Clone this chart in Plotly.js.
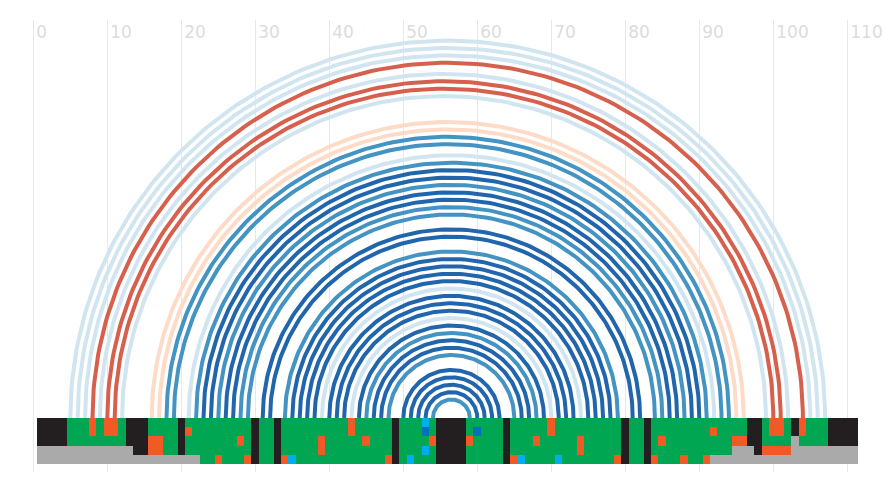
<!DOCTYPE html>
<html><head><meta charset="utf-8">
<script src="https://cdn.plot.ly/plotly-3.0.1.min.js"></script>
<style>html,body{margin:0;padding:0;background:#fff}#chart{width:888px;height:490px}</style>
</head><body><div id="chart"></div>
<script>
// Base pairs (left position, right position, colour class)
const pairLeft  = [5,6,7,8,9,10,11,12,16,17,18,19,21,22,23,24,25,26,27,28,29,31,32,34,35,36,37,38,39,40,41,42,43,44,45,46,47,48,50,51,52,53,54];
const pairRight = [107,106,105,104,102,101,100,99,96,95,94,93,92,91,90,89,88,87,86,85,84,82,81,79,78,77,76,75,74,73,72,71,70,69,68,67,66,65,63,62,61,60,59];
const pairClass = ['lb','lb','lb','red','lb','red','red','lb','peach','peach','mid','mid','lb','mid','dark','dark','mid','dark','dark','mid','mid','dark','dark','mid','dark','dark','dark','dark','lb','dark','dark','dark','lb','dark','mid','dark','dark','mid','dark','dark','dark','dark','mid'];

// Tile rows (top to bottom), one letter per position 1..111
const tileRow0 = "KKKK GGGOGOOG KKK GGGG K GGGGGGGGG K GG K GGGGGGGGGOGGGGG K GGGCG KKKK GGGGG K GGGGGOGGGGGGGGG K GG K GGGGGGGGGGGGG KK G OO G K O GGG KKKK";
const tileRow1 = "KKKK GGGOGOOG KKK GGGG K OGGGGGGGG K GG K GGGGGGGGGOGGGGG K GGGBG KKKK GBGGG K GGGGGOGGGGGGGGG K GG K GGGGGGGGOGGGG KK G OO G K O GGG KKKK";
const tileRow2 = "KKKK GGGGGGGG KKK OO GG K GGGGGGGOG K GG K GGGGGOGGGGGOGGG K GGGGO KKKK OGGGG K GGGOGGGGGOGGGGG K GG K GOGGGGGGGGGOO KK GGGG A GGGG KKKK";
const tileRow3 = "AAAAAAAAAAAAA KK OO GG K GGGGGGGGG K GG K GGGGGOGGGGGGGGG K GGGCG KKKK GGGGG K GGGGGGGGGOGGGGG K GG K GGGGGGGGGGG AAA K OOOO AAAAAAAAA";
const tileRow4 = "AAAAAAAAAAAAAAAAAAAAAA GG O GGG O K GG K O C GGGGGGGGGGGG O K G C GGG KKKK GGGGG K O C GGGG C GGGGGGG O K GG K O GGG O GG O AAAAAAAAAAAAAAAAAAAA";

const xTicks = [0,10,20,30,40,50,60,70,80,90,100,110];

const classColor = {lb:'#d1e5f0', mid:'#4393c3', dark:'#2166ac', red:'#d6604d', peach:'#fddbc7'};
const tileCodes = {K:0, G:1, O:2, A:3, C:4, B:5};
const tileColors = ['#231f20','#00a651','#f15a24','#aaaaaa','#00aeef','#0072bc'];

// geometry of the canvas
const W = 888, H = 490, mT = 20, mB = 18;
const xRange = [-4.5, 115.5];
const pxPerUnit = W / (xRange[1] - xRange[0]);
const baselinePx = 418;             // pixel row of y=0
const tileHeightPx = 46;            // total height of tile strip
const plotH = H - mT - mB;
const yTop = (baselinePx - mT) / pxPerUnit;
const yBot = -(mT + plotH - baselinePx) / pxPerUnit;

const traces = [];
// heatmap tiles
const rows = [tileRow0, tileRow1, tileRow2, tileRow3, tileRow4].map(s => s.replace(/\s+/g,''));
const nCols = rows[0].length;
const xs = []; for (let i = 1; i <= nCols; i++) xs.push(i);
const rowH = tileHeightPx / rows.length / pxPerUnit;
const ys = rows.map((_, k) => -(k + 0.5) * rowH);
const z = rows.map(r => r.split('').map(c => tileCodes[c]));
const n = tileColors.length;
const cs = [];
tileColors.forEach((c, i) => { cs.push([i / n, c]); cs.push([(i + 1) / n, c]); });
traces.push({type:'heatmap', x:xs, y:ys, z:z, colorscale:cs, zmin:-0.5, zmax:n-0.5,
  showscale:false, hoverinfo:'skip', xgap:0, ygap:0});

// arcs grouped by colour
const order = ['lb','peach','red','mid','dark'];
order.forEach(cls => {
  const ax = [], ay = [];
  pairLeft.forEach((l, k) => {
    if (pairClass[k] !== cls) return;
    const r = pairRight[k];
    const c = (l + r) / 2, rad = (r - l) / 2;
    const N = 160;
    for (let t = 0; t <= N; t++) {
      const th = Math.PI * t / N;
      ax.push(c - rad * Math.cos(th));
      ay.push(rad * Math.sin(th));
    }
    ax.push(null); ay.push(null);
  });
  traces.push({type:'scatter', mode:'lines', x:ax, y:ay, line:{color:classColor[cls], width:4},
    hoverinfo:'skip', connectgaps:false});
});

const layout = {
  width:W, height:H, margin:{l:0, r:0, t:mT, b:mB, pad:0},
  paper_bgcolor:'#ffffff', plot_bgcolor:'#ffffff', showlegend:false,
  xaxis:{range:xRange, side:'top', tickmode:'array', tickvals:xTicks, ticktext:xTicks.map(String),
    ticklabelposition:'inside right', ticklabelshift:3, ticks:'', showgrid:true, gridcolor:'#e8e8e8', gridwidth:1,
    zeroline:false, showline:false, tickfont:{family:'DejaVu Sans', size:17, color:'#dcdcdc'}},
  yaxis:{range:[yBot, yTop], visible:false, showgrid:false, zeroline:false}
};
Plotly.newPlot('chart', traces, layout, {staticPlot:true, displayModeBar:false});
</script>
</body></html>
